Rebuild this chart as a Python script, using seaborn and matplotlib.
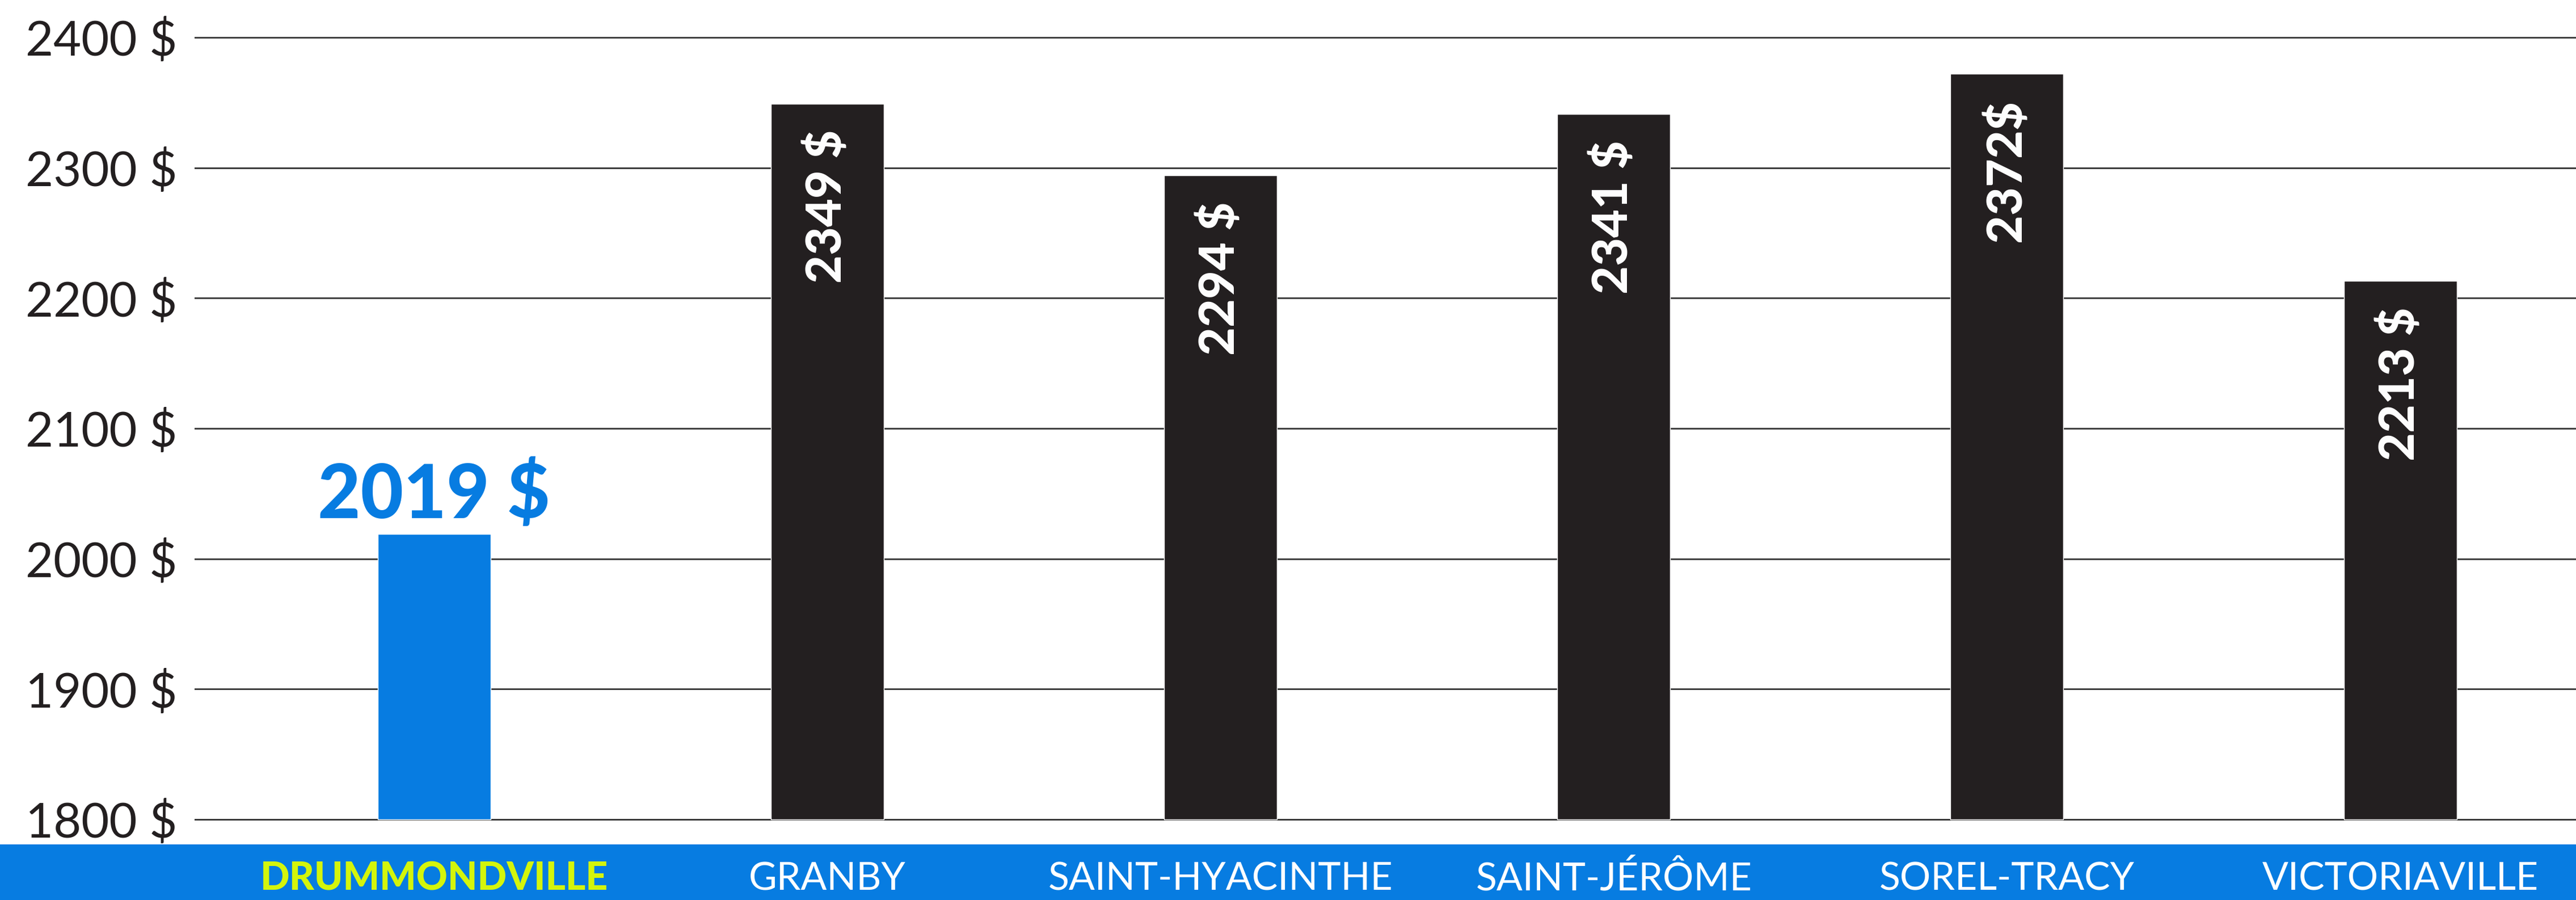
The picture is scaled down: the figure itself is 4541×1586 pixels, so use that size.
import pandas as pd
import seaborn as sns
import matplotlib.pyplot as plt
from matplotlib.patches import Rectangle

cities = ["DRUMMONDVILLE", "GRANBY", "SAINT-HYACINTHE", "SAINT-JÉRÔME", "SOREL-TRACY", "VICTORIAVILLE"]
prices = [2019, 2349, 2294, 2341, 2372, 2213]
price_labels = ["2019 $", "2349 $", "2294 $", "2341 $", "2372$", "2213 $"]
y_ticks = [1800, 1900, 2000, 2100, 2200, 2300, 2400]
y_tick_labels = ["1800 $", "1900 $", "2000 $", "2100 $", "2200 $", "2300 $", "2400 $"]

BLUE = "#077ce1"
DARK = "#231f20"
LIME = "#d4f50b"
BASE = 1800


def show_data():
    sns.set_theme(style="white")
    plt.rcParams["font.family"] = ["Lato", "DejaVu Sans"]

    df = pd.DataFrame({"city": cities, "price": prices})
    colors = [BLUE] + [DARK] * (len(cities) - 1)

    fig = plt.figure(figsize=(45.41, 15.86), dpi=100)
    ax = fig.add_axes([343 / 4541, 98 / 1586, 1 - 343 / 4541, 1 - 98 / 1586])

    # bottom band
    fig.add_artist(Rectangle((0, 0), 1, 98 / 1586, transform=fig.transFigure,
                             facecolor=BLUE, edgecolor="none", zorder=-1))

    sns.barplot(data=df, x="city", y="price", hue="city", palette=colors,
                legend=False, width=0.287, saturation=1, ax=ax, zorder=3)

    # bars start at 1800, not 0
    for bar in ax.patches:
        top = bar.get_height()
        bar.set_y(BASE)
        bar.set_height(top - BASE)

    ax.set_ylim(1780.8, 2428.7)
    ax.set_xlim(-0.609, 5.447)
    ax.set_yticks(y_ticks)
    ax.set_yticklabels(y_tick_labels)
    ax.yaxis.grid(True, color="#333333", linewidth=2.0)
    ax.set_axisbelow(True)
    for s in ax.spines.values():
        s.set_visible(False)
    ax.set_xlabel("")
    ax.set_ylabel("")

    ax.tick_params(axis="y", length=0, pad=22, labelsize=61, labelcolor=DARK)
    ax.tick_params(axis="x", length=0, pad=44, labelsize=49, labelcolor="white")
    for i, lab in enumerate(ax.get_xticklabels()):
        lab.set_va("center")
        lab.set_fontweight("normal")
        if i == 0:
            lab.set_color(LIME)
            lab.set_fontweight("black")

    for i, (v, txt) in enumerate(zip(prices, price_labels)):
        if i == 0:
            ax.text(i, v + 12, txt, ha="center", va="baseline", color=BLUE,
                    fontsize=94, fontweight="black", zorder=4)
        else:
            ax.text(i, v - 20, txt, ha="center", va="top", rotation=90,
                    color="white", fontsize=62, fontweight="black", zorder=4)

    fig.savefig("out.png", dpi=100)


if __name__ == "__main__":
    show_data()
